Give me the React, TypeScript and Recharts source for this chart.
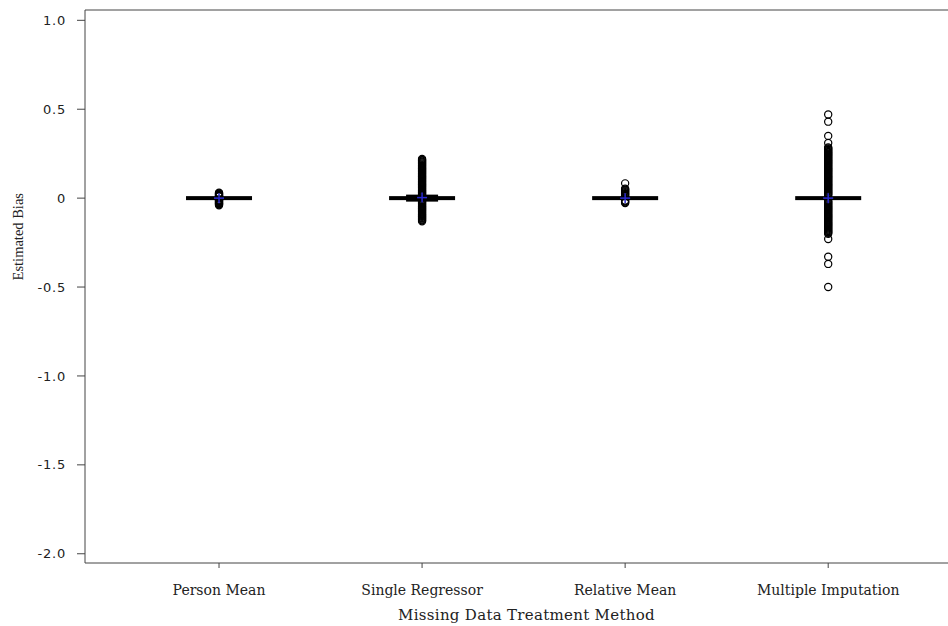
import React from 'react';
import { ComposedChart, XAxis, YAxis, Scatter, ReferenceLine } from 'recharts';

const categories = ['Person Mean', 'Single Regressor', 'Relative Mean', 'Multiple Imputation'];
const categoryPositions = [1, 2, 3, 4];
const medians = [0, 0, 0, 0];
const means = [0, 0.003, 0, 0];
const yTicks = [-2, -1.5, -1, -0.5, 0, 0.5, 1];
const yTickLabels: Record<string, string> = { '-2': '-2.0', '-1.5': '-1.5', '-1': '-1.0', '-0.5': '-0.5', '0': '0', '0.5': '0.5', '1': '1.0' };

const personMeanOutliers = [0.03, 0.027, 0.024, 0.021, 0.018, 0.015, 0.012, 0.009, -0.009, -0.012, -0.015, -0.018, -0.021, -0.024, -0.027, -0.03, -0.033, -0.036, -0.04];
const singleRegressorOutliers = [
  0.22, 0.215, 0.21, 0.205, 0.2, 0.195, 0.19, 0.185, 0.18, 0.175, 0.17, 0.165, 0.16, 0.155, 0.15, 0.145, 0.14, 0.135,
  0.13, 0.125, 0.12, 0.115, 0.11, 0.105, 0.1, 0.095, 0.09, 0.085, 0.08, 0.075, 0.07, 0.065, 0.06, 0.055, 0.05, 0.045,
  0.04, 0.035, 0.03, 0.025, 0.02, 0.015, -0.015, -0.02, -0.025, -0.03, -0.035, -0.04, -0.045, -0.05, -0.055, -0.06,
  -0.065, -0.07, -0.075, -0.08, -0.085, -0.09, -0.095, -0.1, -0.105, -0.11, -0.115, -0.12, -0.125, -0.13,
];
const relativeMeanOutliers = [0.083, 0.053, 0.048, 0.043, 0.038, 0.033, 0.028, 0.023, 0.018, 0.013, -0.013, -0.018, -0.023, -0.028];
const multipleImputationOutliers = [
  0.47, 0.43, 0.35, 0.31, 0.285, 0.28, 0.275, 0.27, 0.265, 0.26, 0.255, 0.25, 0.245, 0.24, 0.235, 0.23, 0.225, 0.22,
  0.215, 0.21, 0.205, 0.2, 0.195, 0.19, 0.185, 0.18, 0.175, 0.17, 0.165, 0.16, 0.155, 0.15, 0.145, 0.14, 0.135, 0.13,
  0.125, 0.12, 0.115, 0.11, 0.105, 0.1, 0.095, 0.09, 0.085, 0.08, 0.075, 0.07, 0.065, 0.06, 0.055, 0.05, 0.045, 0.04,
  0.035, 0.03, 0.025, 0.02, 0.015, -0.015, -0.02, -0.025, -0.03, -0.035, -0.04, -0.045, -0.05, -0.055, -0.06, -0.065,
  -0.07, -0.075, -0.08, -0.085, -0.09, -0.095, -0.1, -0.105, -0.11, -0.115, -0.12, -0.125, -0.13, -0.135, -0.14,
  -0.145, -0.15, -0.155, -0.16, -0.165, -0.17, -0.175, -0.18, -0.185, -0.19, -0.195, -0.2, -0.23, -0.33, -0.37, -0.5,
];
const outlierSets = [personMeanOutliers, singleRegressorOutliers, relativeMeanOutliers, multipleImputationOutliers];
// category with the wider inner box segment
const innerBoxCategories = [2];
const innerBoxValues = [0];

const boxData = categoryPositions.map((x, i) => ({ x, y: medians[i] }));
const innerBoxData = innerBoxCategories.map((x, i) => ({ x, y: innerBoxValues[i] }));
const meanData = categoryPositions.map((x, i) => ({ x, y: means[i] }));
const outlierData = categoryPositions.flatMap((x, i) => outlierSets[i].map((y) => ({ x, y })));

const BoxShape = (p: any) => <rect x={p.cx - 33} y={p.cy - 2} width={66} height={4} fill="#000" />;
const InnerBoxShape = (p: any) => <rect x={p.cx - 16} y={p.cy - 3.5} width={32} height={7} fill="#000" />;
const OutlierShape = (p: any) => <circle cx={p.cx} cy={p.cy} r={3.6} fill="none" stroke="#000" strokeWidth={1.2} />;
const MeanShape = (p: any) => (
  <g stroke="#2a2ad0" strokeWidth={1.5}>
    <line x1={p.cx - 5} y1={p.cy} x2={p.cx + 5} y2={p.cy} />
    <line x1={p.cx} y1={p.cy - 5} x2={p.cx} y2={p.cy + 5} />
  </g>
);

const xDomain: [number, number] = [0.34, 4.59];
const yDomain: [number, number] = [-2.052, 1.058];

export default function App() {
  return (
    <div style={{ position: 'fixed', left: 0, top: 0, width: 948, height: 626, background: '#fff' }}>
      <ComposedChart width={948} height={626} margin={{ top: 10, right: 0, bottom: 0, left: 8 }}>
        <XAxis
          xAxisId="b"
          dataKey="x"
          type="number"
          domain={xDomain}
          allowDataOverflow
          ticks={categoryPositions}
          tickFormatter={(v: number) => categories[v - 1]}
          tickSize={5}
          tickMargin={17}
          height={63}
          stroke="#444"
          tick={{ fill: '#222', fontFamily: 'DejaVu Serif', fontSize: 14 }}
          interval={0}
          label={{
            content: (p: any) => {
              const vb = p.viewBox;
              return (
                <text x={vb.x + vb.width / 2 + 10} y={vb.y + 52} textAnchor="middle" dominantBaseline="central" fontFamily="DejaVu Serif" fontSize={15} letterSpacing={0.3} fill="#222">
                  Missing Data Treatment Method
                </text>
              );
            },
          }}
        />
        <YAxis
          yAxisId="l"
          dataKey="y"
          type="number"
          domain={yDomain}
          allowDataOverflow
          ticks={yTicks}
          interval={0}
          tickFormatter={(v: number) => yTickLabels[String(v)]}
          tickSize={8}
          tickMargin={11}
          width={77}
          stroke="#444"
          tick={{ fill: '#222', fontFamily: 'DejaVu Sans', fontSize: 13, letterSpacing: 0.8 }}
          label={{
            content: (p: any) => {
              const vb = p.viewBox;
              const x = vb.x + 10;
              const y = vb.y + vb.height * 0.41;
              return (
                <text x={x} y={y} transform={`rotate(-90 ${x} ${y})`} textAnchor="middle" dominantBaseline="central" fontFamily="Liberation Serif" fontSize={14.5} fill="#222">
                  Estimated Bias
                </text>
              );
            },
          }}
        />
        <ReferenceLine xAxisId="b" yAxisId="l" y={yDomain[1]} stroke="#444" strokeWidth={1} />
        <Scatter xAxisId="b" yAxisId="l" data={boxData} shape={BoxShape} isAnimationActive={false} />
        <Scatter xAxisId="b" yAxisId="l" data={innerBoxData} shape={InnerBoxShape} isAnimationActive={false} />
        <Scatter xAxisId="b" yAxisId="l" data={outlierData} shape={OutlierShape} isAnimationActive={false} />
        <Scatter xAxisId="b" yAxisId="l" data={meanData} shape={MeanShape} isAnimationActive={false} />
      </ComposedChart>
    </div>
  );
}
